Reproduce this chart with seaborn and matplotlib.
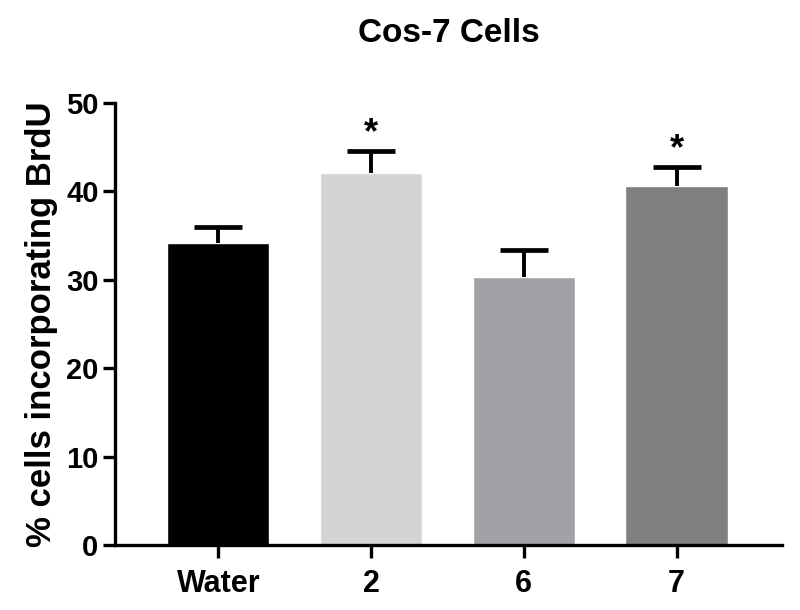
#!/usr/bin/env python

from matplotlib import pyplot as plt
import pandas as pd
import seaborn as sns

sns.set_theme(style="ticks")
plt.rcParams['font.family'] = ['Liberation Sans', 'DejaVu Sans']
plt.rcParams['font.weight'] = 'bold'
plt.rcParams['text.color'] = 'black'
plt.rcParams['xtick.color'] = 'black'
plt.rcParams['ytick.color'] = 'black'

# values
groups = ["Water", "2", "6", "7"]
means = [34.2, 42.1, 30.3, 40.6]
sem = [1.8, 2.5, 3.1, 2.2]
stars = ["", "*", "", "*"]
bar_colors = ["#000000", "#d4d4d4", "#a2a1a6", "#808080"]


def make_plot():
    data = pd.DataFrame({"Group": groups, "BrdU": means})
    fig = plt.figure(figsize=(8, 6.1), dpi=100)
    ax = fig.add_axes([0.144, 0.1066, 0.8335, 0.7245])

    sns.barplot(data=data, x="Group", y="BrdU", hue="Group", order=groups,
                palette=dict(zip(groups, bar_colors)), width=0.67,
                saturation=1, legend=False, ax=ax)

    # upper error bars only, Prism style
    _, caps, _ = ax.errorbar(range(len(groups)), means, yerr=[[0] * len(sem), sem],
                             fmt="none", ecolor="black", elinewidth=2.8, capsize=17,
                             capthick=3.4, zorder=1)
    caps[0].set_visible(False)

    for i, s in enumerate(stars):
        if s:
            ax.text(i, means[i] + sem[i] - 0.1, s, ha="center", va="bottom",
                    fontsize=26, fontweight="bold", color="black")

    ax.set_xlim(-0.675, 3.69)
    ax.set_ylim(0, 50)
    ax.set_yticks([0, 10, 20, 30, 40, 50])
    ax.set_xlabel("")
    ax.set_ylabel("% cells incorporating BrdU", fontsize=25, fontweight="bold",
                  labelpad=6, color="black")
    ax.set_title("Cos-7 Cells", fontsize=24, fontweight="bold", pad=44,
                 color="black")

    sns.despine(ax=ax)
    for side in ["left", "bottom"]:
        ax.spines[side].set_linewidth(2.4)
        ax.spines[side].set_color("black")
    ax.tick_params(axis="both", length=9, width=2.4, color="black")
    ax.tick_params(axis="x", labelsize=22, pad=8)
    ax.tick_params(axis="y", labelsize=21, pad=3)
    for lab in ax.get_xticklabels() + ax.get_yticklabels():
        lab.set_fontweight("bold")

    fig.savefig("out.png", dpi=100)


if __name__ == "__main__":
    make_plot()
